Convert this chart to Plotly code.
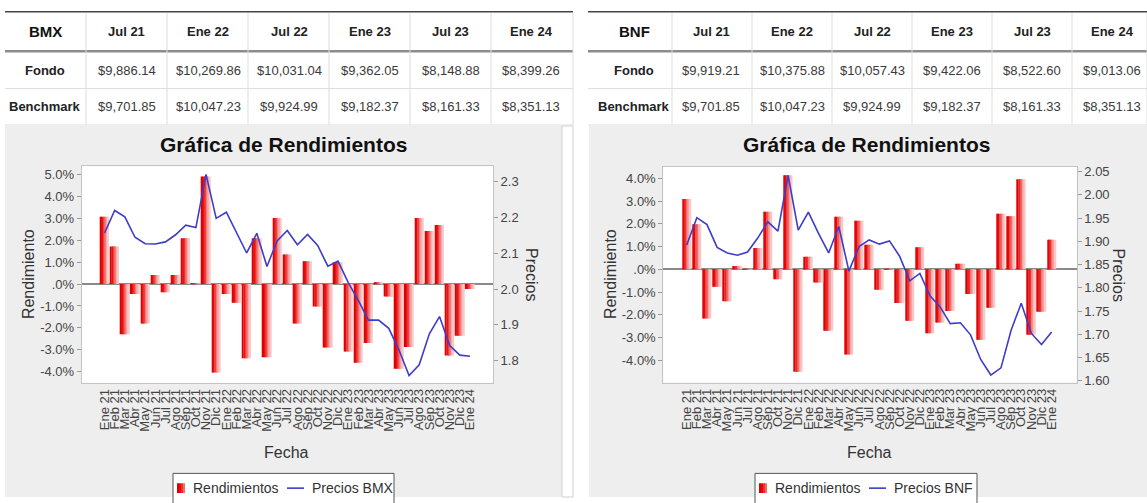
import plotly.graph_objects as go

W, H = 1147, 503

# ---------------- data ----------------
months = ["Ene 21", "Feb 21", "Mar 21", "Abr 21", "May 21", "Jun 21", "Jul 21", "Ago 21",
          "Sep 21", "Oct 21", "Nov 21", "Dic 21",
          "Ene 22", "Feb 22", "Mar 22", "Abr 22", "May 22", "Jun 22", "Jul 22", "Ago 22",
          "Sep 22", "Oct 22", "Nov 22", "Dic 22",
          "Ene 23", "Feb 23", "Mar 23", "Abr 23", "May 23", "Jun 23", "Jul 23", "Ago 23",
          "Sep 23", "Oct 23", "Nov 23", "Dic 23", "Ene 24"]

bmx_returns = [3.08, 1.72, -2.30, -0.45, -1.80, 0.42, -0.37, 0.42, 2.10, 0.02, 4.93, -4.05,
               -0.45, -0.85, -3.40, 2.10, -3.35, 3.03, 1.35, -1.80, 1.05, -1.02, -2.90, 1.00,
               -3.08, -3.60, -2.70, 0.08, -0.57, -3.87, -2.88, 3.03, 2.43, 2.70, -3.27, -2.37,
               -0.22]
bmx_prices = [2.157, 2.220, 2.202, 2.145, 2.127, 2.126, 2.132, 2.152, 2.179, 2.172, 2.321, 2.198,
              2.215, 2.159, 2.101, 2.156, 2.063, 2.135, 2.164, 2.124, 2.153, 2.122, 2.064, 2.078,
              2.019, 1.968, 1.913, 1.913, 1.890, 1.830, 1.758, 1.788, 1.875, 1.923, 1.842, 1.815,
              1.812]

bnf_returns = [3.10, 1.98, -2.16, -0.76, -1.40, 0.15, 0.02, 0.94, 2.53, -0.43, 4.14, -4.51,
               0.55, -0.58, -2.70, 2.31, -3.75, 2.14, 1.08, -0.90, 0.03, -1.48, -2.26, 0.97,
               -2.81, -2.34, -1.83, 0.25, -1.08, -3.10, -1.69, 2.45, 2.34, 3.97, -2.88, -1.87,
               1.30]
bnf_prices = [1.892, 1.951, 1.936, 1.887, 1.875, 1.870, 1.877, 1.907, 1.942, 1.922, 2.042, 1.924,
              1.963, 1.917, 1.875, 1.932, 1.836, 1.889, 1.903, 1.894, 1.901, 1.868, 1.815, 1.831,
              1.783, 1.759, 1.723, 1.725, 1.699, 1.646, 1.6125, 1.628, 1.709, 1.767, 1.702, 1.678,
              1.705]

table_cols = ["Jul 21", "Ene 22", "Jul 22", "Ene 23", "Jul 23", "Ene 24"]
row_labels = ["Fondo", "Benchmark"]
bmx_fondo = ["$9,886.14", "$10,269.86", "$10,031.04", "$9,362.05", "$8,148.88", "$8,399.26"]
bmx_bench = ["$9,701.85", "$10,047.23", "$9,924.99", "$9,182.37", "$8,161.33", "$8,351.13"]
bnf_fondo = ["$9,919.21", "$10,375.88", "$10,057.43", "$9,422.06", "$8,522.60", "$9,013.06"]
bnf_bench = ["$9,701.85", "$10,047.23", "$9,924.99", "$9,182.37", "$8,161.33", "$8,351.13"]

ret_ticks_bmx = [5, 4, 3, 2, 1, 0, -1, -2, -3, -4]
ret_labels_bmx = ["5.0%", "4.0%", "3.0%", "2.0%", "1.0%", ".0%", "-1.0%", "-2.0%", "-3.0%", "-4.0%"]
ret_ticks_bnf = [4, 3, 2, 1, 0, -1, -2, -3, -4]
ret_labels_bnf = ["4.0%", "3.0%", "2.0%", "1.0%", ".0%", "-1.0%", "-2.0%", "-3.0%", "-4.0%"]
price_ticks_bmx = [1.8, 1.9, 2.0, 2.1, 2.2, 2.3]
price_ticks_bnf = [1.60, 1.65, 1.70, 1.75, 1.80, 1.85, 1.90, 1.95, 2.00, 2.05]

# ---------------- style ----------------
FONT = "Liberation Sans, Arial, sans-serif"
GRAD = ["#dc0000", "#e80808", "#ee3030", "#f06a6a", "#f3a2a2", "#f6c8c8"]
BAR_W = 0.86
LINE_COLOR = "#3d3dc8"
PANEL = "#eeeeee"


def px(x):
    return x / W


def py(y):
    return 1 - y / H


fig = go.Figure()


def add_chart(returns, prices, xa, ya, ya2, name):
    n = len(GRAD)
    for k, col in enumerate(GRAD):
        fig.add_trace(go.Bar(
            x=months, y=returns, width=BAR_W / n, offset=-BAR_W / 2 + k * BAR_W / n,
            marker=dict(color=col, line=dict(width=0)),
            xaxis=xa, yaxis=ya, name="Rendimientos", showlegend=False))
    fig.add_trace(go.Scatter(
        x=months, y=prices, mode="lines", line=dict(color=LINE_COLOR, width=1.6),
        xaxis=xa, yaxis=ya2, name=name, showlegend=False))


add_chart(bmx_returns, bmx_prices, "x", "y", "y2", "Precios BMX")
add_chart(bnf_returns, bnf_prices, "x2", "y3", "y4", "Precios BNF")

tickfont = dict(family=FONT, size=13, color="#444444")
common_x = dict(type="category", tickangle=-90, tickfont=tickfont, showline=True, mirror=True,
                linecolor="#c4c4c4", linewidth=1, showgrid=False, zeroline=False, ticks="",
                tickmode="linear", tick0=0, dtick=1)
common_y = dict(tickfont=tickfont, ticks="outside", ticklen=4, tickcolor="#999999",
                showline=True, mirror=True, linecolor="#c4c4c4", linewidth=1, showgrid=False,
                zeroline=True, zerolinecolor="#8a8a8a", zerolinewidth=1.5)
common_y2 = dict(tickfont=tickfont, ticks="outside", ticklen=4, tickcolor="#999999",
                 showline=False, showgrid=False, zeroline=False, side="right")

L = dict(x0=81.7, x1=493.0, y0=167.0, y1=387.0)
R = dict(x0=663.3, x1=1076.7, y0=167.3, y1=386.7)

fig.update_layout(
    width=W, height=H, margin=dict(l=0, r=0, t=0, b=0), showlegend=False,
    paper_bgcolor="white", plot_bgcolor="white", barmode="overlay",
    font=dict(family=FONT, color="#333333"),
    xaxis=dict(domain=[px(L["x0"]), px(L["x1"])], anchor="y", range=[-2.25, 38.27], **common_x),
    yaxis=dict(domain=[py(L["y1"]), py(L["y0"])], anchor="x", range=[-4.52, 5.39],
               tickvals=ret_ticks_bmx, ticktext=ret_labels_bmx, **common_y),
    yaxis2=dict(overlaying="y", anchor="x", range=[1.7375, 2.3435], tickvals=price_ticks_bmx,
                tickformat=".1f", **common_y2),
    xaxis2=dict(domain=[px(R["x0"]), px(R["x1"])], anchor="y3", range=[-2.31, 38.47], **common_x),
    yaxis3=dict(domain=[py(R["y1"]), py(R["y0"])], anchor="x2", range=[-4.98, 4.52],
                tickvals=ret_ticks_bnf, ticktext=ret_labels_bnf, **common_y),
    yaxis4=dict(overlaying="y3", anchor="x2", range=[1.5964, 2.0606], tickvals=price_ticks_bnf,
                tickformat=".2f", **common_y2),
)

shapes = []
annotations = []


def rect(x0, y0, x1, y1, fill, line=None, lw=0, layer="below"):
    shapes.append(dict(type="rect", xref="paper", yref="paper", x0=px(x0), x1=px(x1),
                       y0=py(y1), y1=py(y0), fillcolor=fill, layer=layer,
                       line=dict(width=lw, color=line or fill)))


def hline(x0, x1, y, color, w):
    shapes.append(dict(type="line", xref="paper", yref="paper", x0=px(x0), x1=px(x1),
                       y0=py(y), y1=py(y), line=dict(color=color, width=w)))


def vline(x, y0, y1, color, w):
    shapes.append(dict(type="line", xref="paper", yref="paper", x0=px(x), x1=px(x),
                       y0=py(y0), y1=py(y1), line=dict(color=color, width=w)))


def text(x, y, s, size, bold=False, color="#333333", angle=0, anchor="center"):
    annotations.append(dict(xref="paper", yref="paper", x=px(x), y=py(y), text=s,
                            showarrow=False, xanchor=anchor, yanchor="middle",
                            textangle=angle,
                            font=dict(family=FONT, size=size, color=color,
                                      weight="bold" if bold else "normal")))


# grey chart panels
rect(5, 126, 562, 503, PANEL)
rect(562, 126, 573, 503, "white", "#d0d0d0", 1)
rect(589, 126, 1147, 503, PANEL)
# white plot areas
for xr, yr in (("x", "y"), ("x2", "y3")):
    shapes.append(dict(type="rect", xref=xr + " domain", yref=yr + " domain", x0=0, x1=1,
                       y0=0, y1=1, fillcolor="white", layer="below", line=dict(width=0)))


def table(title, fondo, bench, x0, x1, label_c, col_c, seps):
    hline(x0, x1, 10, "#444444", 1.5)
    hline(x0, x1, 50, "#8c8c8c", 2.5)
    hline(x0, x1, 88, "#dddddd", 1)
    hline(x0, x1, 125, "#dddddd", 1)
    for s in seps:
        vline(s, 11, 125, "#dddddd", 1)
    vline(x1, 11, 125, "#dddddd", 1)
    text(label_c, 30, title, 15, True, "#111111")
    text(label_c, 70, row_labels[0], 13, True, "#222222")
    text(label_c, 106.5, row_labels[1], 13, True, "#222222")
    for c, h, f, b in zip(col_c, table_cols, fondo, bench):
        text(c, 30, h, 13, True, "#222222")
        text(c, 70, f, 13, False, "#3a3a3a")
        text(c, 106.5, b, 13, False, "#3a3a3a")


table("BMX", bmx_fondo, bmx_bench, 5, 573, 45, [126.5, 208, 289, 370, 450.5, 531],
      [86, 167, 248, 329, 410, 491])
table("BNF", bnf_fondo, bnf_bench, 588, 1147, 634, [711, 792, 872, 952, 1032, 1112],
      [672, 752, 832, 912, 992, 1072])


def legend_box(x0, x1, line_name):
    shapes.append(dict(type="rect", xref="paper", yref="paper", x0=px(x0), x1=px(x1),
                       y0=py(512), y1=py(479), fillcolor="white", layer="above",
                       line=dict(width=1, color="#555555")))
    for k, col in enumerate(GRAD[:4]):
        shapes.append(dict(type="rect", xref="paper", yref="paper",
                           x0=px(x0 + 4 + 2 * k), x1=px(x0 + 6 + 2 * k),
                           y0=py(499), y1=py(489), fillcolor=col, layer="above",
                           line=dict(width=0)))
    text(x0 + 18, 494, "Rendimientos", 14, False, "#333333", anchor="left")
    shapes.append(dict(type="line", xref="paper", yref="paper", x0=px(x0 + 114),
                       x1=px(x0 + 131), y0=py(494), y1=py(494), layer="above",
                       line=dict(color=LINE_COLOR, width=1.6)))
    text(x0 + 137, 494, line_name, 14, False, "#333333", anchor="left")


legend_box(173, 394, "Precios BMX")
legend_box(755, 977, "Precios BNF")

# chart titles and axis titles
for cx, ylx, yrx in ((283.5, 28.5, 531.5), (866, 610.5, 1118)):
    text(cx, 145, "Gráfica de Rendimientos", 21, True, "#111111")
    text(ylx, 277, "Rendimiento", 16, False, "#333333", -90)
    text(yrx, 277, "Precios", 16, False, "#333333", 90)
    text(cx + 3, 458, "Fecha", 16, False, "#333333")

fig.update_layout(shapes=shapes, annotations=annotations)
fig.write_html("out.html", config={"displayModeBar": False},
               post_script="document.body.style.margin='0';document.body.style.overflow='hidden';")
